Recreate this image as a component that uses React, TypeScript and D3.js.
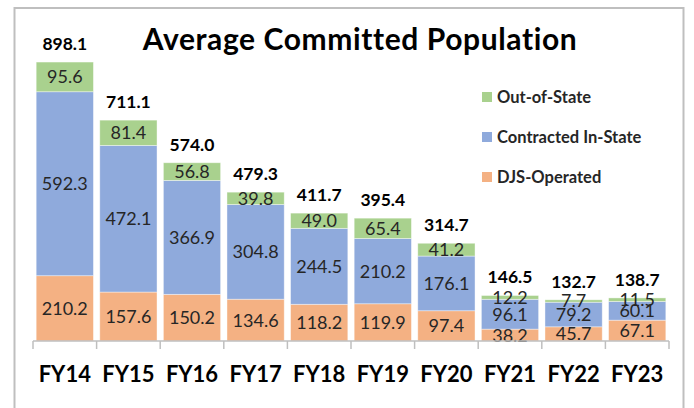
import React from "react";
import * as d3 from "d3";

const categories = ["FY14", "FY15", "FY16", "FY17", "FY18", "FY19", "FY20", "FY21", "FY22", "FY23"];
const djsOperated = [210.2, 157.6, 150.2, 134.6, 118.2, 119.9, 97.4, 38.2, 45.7, 67.1];
const contractedInState = [592.3, 472.1, 366.9, 304.8, 244.5, 210.2, 176.1, 96.1, 79.2, 60.1];
const outOfState = [95.6, 81.4, 56.8, 39.8, 49.0, 65.4, 41.2, 12.2, 7.7, 11.5];
const totals = [898.1, 711.1, 574.0, 479.3, 411.7, 395.4, 314.7, 146.5, 132.7, 138.7];

const seriesNames = ["DJS-Operated", "Contracted In-State", "Out-of-State"];
const seriesColors = ["#F4B183", "#8FAADC", "#A9D18E"];
const legendOrder = [2, 1, 0];

const W = 694;
const H = 408;
const FONT = "Lato, 'Open Sans', sans-serif";

export default function App() {
  const x = d3.scaleBand<string>().domain(categories).range([33, 669]).paddingInner(0.1).paddingOuter(0.05);
  const y = d3.scaleLinear().domain([0, 1000]).range([341, 30.4]);
  const seriesData = [djsOperated, contractedInState, outOfState];
  const table = categories.map((c, i) => ({ cat: c, s0: djsOperated[i], s1: contractedInState[i], s2: outOfState[i] }));
  const stacked = d3.stack<any>().keys(["s0", "s1", "s2"])(table);
  const ticks = d3.range(categories.length + 1).map((i) => 33 + i * ((669 - 33) / categories.length));

  return (
    <svg width={W} height={H} style={{ position: "absolute", left: 0, top: 0, background: "#fff" }}>
      <rect x={0} y={0} width={W} height={H} fill="#fff" />
      <rect x={14.5} y={8} width={669} height={420} fill="#fff" stroke="#bfbfbf" strokeWidth={2} />
      <text x={360} y={50} textAnchor="middle" fontFamily={FONT} fontWeight={700} fontSize={30} letterSpacing={0.6} fill="#000">
        Average Committed Population
      </text>
      {stacked.map((layer, si) => (
        <g key={si}>
          {layer.map((d, i) => (
            <rect
              key={i}
              x={x(categories[i])}
              y={y(d[1])}
              width={x.bandwidth()}
              height={y(d[0]) - y(d[1])}
              fill={seriesColors[si]}
              stroke="#ffffff"
              strokeOpacity={0.5}
              strokeWidth={0.8}
            />
          ))}
        </g>
      ))}
      {stacked.map((layer, si) => (
        <g key={"l" + si}>
          {layer.map((d, i) => (
            <text
              key={i}
              x={(x(categories[i]) as number) + x.bandwidth() / 2}
              y={(y(d[0]) + y(d[1])) / 2}
              dy="0.36em"
              textAnchor="middle"
              fontFamily={FONT}
              fontSize={18}
              fill="#262626"
            >
              {seriesData[si][i].toFixed(1)}
            </text>
          ))}
        </g>
      ))}
      {totals.map((t, i) => (
        <text
          key={i}
          x={(x(categories[i]) as number) + x.bandwidth() / 2}
          y={y(djsOperated[i] + contractedInState[i] + outOfState[i]) - 12}
          textAnchor="middle"
          fontFamily={FONT}
          fontWeight={700}
          fontSize={17.5}
          fill="#000"
        >
          {t.toFixed(1)}
        </text>
      ))}
      <line x1={33} x2={669} y1={341} y2={341} stroke="#bfbfbf" strokeWidth={1.5} />
      {ticks.map((tx, i) => (
        <line key={i} x1={tx} x2={tx} y1={341} y2={349} stroke="#bfbfbf" strokeWidth={1.5} />
      ))}
      {categories.map((c) => (
        <text
          key={c}
          x={(x(c) as number) + x.bandwidth() / 2}
          y={382}
          textAnchor="middle"
          fontFamily={FONT}
          fontWeight={700}
          fontSize={22}
          fill="#000"
        >
          {c}
        </text>
      ))}
      {legendOrder.map((si, k) => (
        <g key={si} transform={`translate(482, ${97 + k * 40})`}>
          <rect x={0} y={-5} width={10} height={10} fill={seriesColors[si]} />
          <text x={15} y={0} dy="0.36em" fontFamily={FONT} fontWeight={700} fontSize={16.5} fill="#262626">
            {seriesNames[si]}
          </text>
        </g>
      ))}
    </svg>
  );
}
